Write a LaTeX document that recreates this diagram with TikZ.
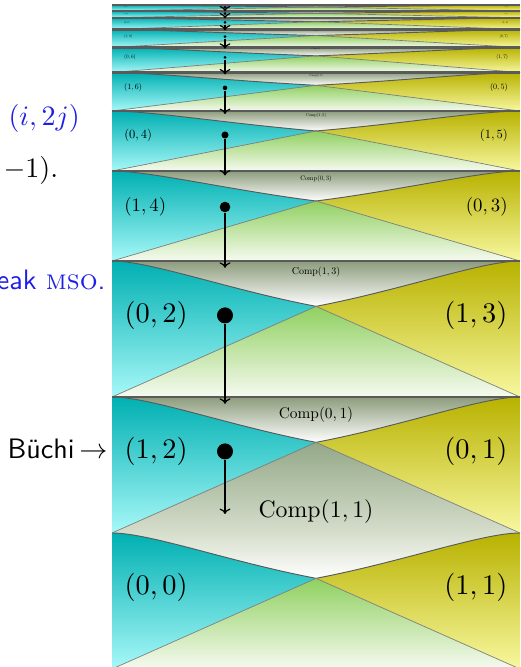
\documentclass[tikz,border=0pt]{standalone}
\usepackage{fontspec}
\usetikzlibrary{arrows.meta}
\definecolor{TealTop}{HTML}{00B0B2}
\definecolor{TealLow}{HTML}{A8F8F8}
\definecolor{OliveTop}{HTML}{B8B200}
\definecolor{OliveLow}{HTML}{F8F8A0}
\definecolor{CompGray}{HTML}{8C9C7C}
\definecolor{PaleGray}{HTML}{D6DECC}
\definecolor{MeetGreen}{HTML}{90D060}
\definecolor{MeetGray}{HTML}{94A888}
\definecolor{MeetLow}{HTML}{F6FAF0}
\definecolor{RimGray}{HTML}{5A5A5A}
\definecolor{SlideBlue}{HTML}{1E1EE6}

\begin{document}
\begin{tikzpicture}[x=0.37pt, y=-0.37pt,
    rim/.style={draw=RimGray, line width=0.35pt},
    seam/.style={draw=RimGray!80, line width=0.25pt},
    bar/.style={draw=RimGray, line width=0.75pt},
    lab/.style={inner sep=0pt},
    slide/.style={inner sep=0pt, scale=1.04},
    stone/.style={circle, fill=black, inner sep=0pt},
    flow/.style={-{To[width=4pt,length=2pt]}, line width=0.45pt}
  ]
  \useasboundingbox (0,0) rectangle (520,667);
  \begin{scope}
    \clip (0,0) rectangle (520,667);
    % bands, from the thin top one down to the last one
    \foreach \band/\tp/\hh/\lft/\rgt/\ct/\mt/\mb in {
        10/5/6/{(0,10)}/{(1,11)}/CompGray/MeetGreen/MeetLow,
        9/11/6.8/{(1,10)}/{(0,9)}/CompGray/MeetGreen/MeetLow,
        8/17.8/11.7/{(0,8)}/{(1,9)}/CompGray/MeetGreen/MeetLow,
        7/29.5/18/{(1,8)}/{(0,7)}/CompGray/MeetGreen/MeetLow,
        6/47.5/25/{(0,6)}/{(1,7)}/CompGray/MeetGreen/MeetLow,
        5/72.5/38.5/{(1,6)}/{(0,5)}/CompGray/MeetGreen/MeetLow,
        4/111/60/{(0,4)}/{(1,5)}/CompGray/MeetGreen/MeetLow,
        3/171/90/{(1,4)}/{(0,3)}/CompGray/MeetGreen/MeetLow,
        2/261/136/{(0,2)}/{(1,3)}/CompGray/MeetGreen/MeetLow,
        1/397/136/{(1,2)}/{(0,1)}/CompGray/MeetGray/PaleGray,
        0/533/136/{(0,0)}/{(1,1)}/PaleGray/MeetGreen/MeetLow}{
      \pgfmathsetmacro\s{\hh/136}
      \pgfmathsetmacro\ls{1.05*\s}
      \pgfmathsetmacro\ym{\tp+\hh/3}
      \pgfmathsetmacro\yc{\tp+0.213*\hh}
      \pgfmathsetmacro\yb{\tp+\hh}
      \pgfmathsetmacro\yd{\tp+0.4*\hh}
      \pgfmathsetmacro\yg{\tp+0.05*\hh}
      \coordinate (X\band) at (316,\ym);
      \coordinate (gate\band) at (225,\yg);
      \shade[top color=\ct, bottom color=white] (112,\tp) .. controls (150,\tp) and (230,\yc) .. (X\band)
        .. controls (402,\yc) and (482,\tp) .. (520,\tp) -- cycle;
      \shade[top color=\mt, bottom color=\mb] (X\band) -- (520,\yb) -- (112,\yb) -- cycle;
      \shade[top color=TealTop, bottom color=TealLow] (112,\tp) .. controls (150,\tp) and (230,\yc) .. (X\band) -- (112,\yb) -- cycle;
      \shade[top color=OliveTop, bottom color=OliveLow] (520,\tp) .. controls (482,\tp) and (402,\yc) .. (X\band) -- (520,\yb) -- cycle;
      \draw[rim] (112,\tp) .. controls (150,\tp) and (230,\yc) .. (X\band)
        .. controls (402,\yc) and (482,\tp) .. (520,\tp);
      \draw[seam] (112,\yb) -- (X\band) -- (520,\yb);
      \node[lab, anchor=west, scale=\ls] (left\band) at (124,\yd) {$\lft$};
      \node[lab, anchor=east, scale=\ls] (right\band) at (508,\yd) {$\rgt$};
      \ifnum\band>0
        \draw[bar] (112,\tp) -- (520,\tp);
        \pgfmathsetmacro\cs{0.57*0.65^(\band-1)}
        \pgfmathsetmacro\ycomp{\tp+31*\cs}
        \node[lab, scale=\cs] (comp\band) at (316,\ycomp) {$\mathrm{Comp}\rgt$};
        \pgfmathsetmacro\dia{max(16*\s,3)*0.37}
        \node[stone, minimum size=\dia pt] (stone\band) at (225,\yd) {};
      \fi
    }
    \node[lab, scale=0.88] (comp11) at (316,512) {$\mathrm{Comp}(1,1)$};
    \coordinate (deep) at (225,514);
    \draw[flow] (stone1) -- (deep);
    \foreach \band/\lower in {2/1,3/2,4/3,5/4,6/5,7/6,8/7,9/8,10/9}
      \draw[flow] (stone\band) -- (gate\lower);
  \end{scope}
  % slide text on the left
  \node[slide, anchor=west, text=SlideBlue] (pair) at (8,118) {$(i,2j)$};
  \node[slide, anchor=west] (tail) at (3,170) {$-1)$.};
  \node[slide, anchor=base east, text=SlideBlue, font=\sffamily] (weak) at (106,290) {eak {\rmfamily\textsc{mso}}.};
  \node[slide, anchor=base west, font=\sffamily] (buchi) at (7,458) {Büchi$\,\rightarrow$};
\end{tikzpicture}
\end{document}
